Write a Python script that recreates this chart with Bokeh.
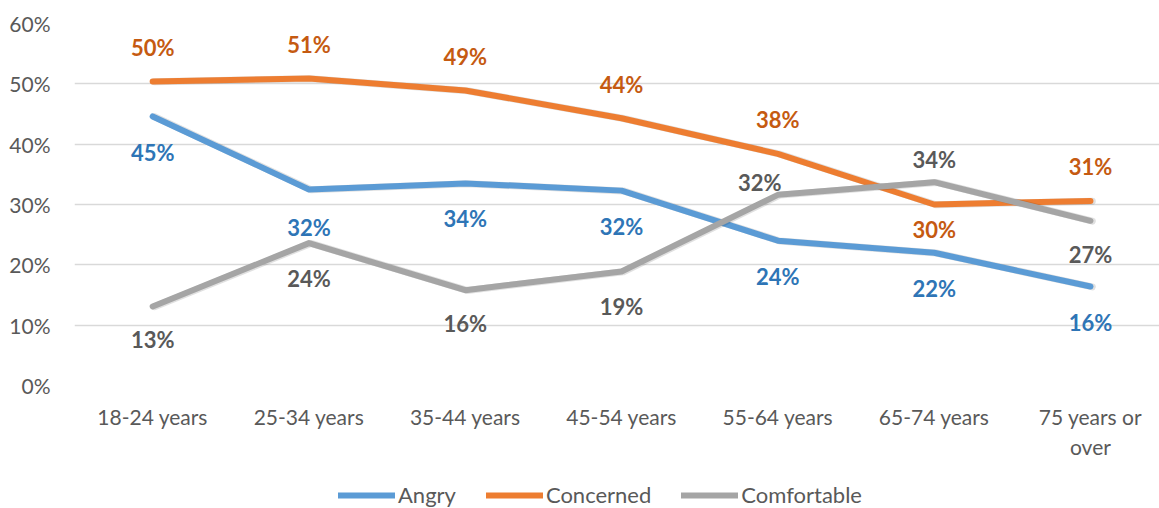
from bokeh.plotting import figure
from bokeh.layouts import column
from bokeh.models import Range1d, FixedTicker, Legend, LegendItem, ColumnDataSource
from bokeh.core.properties import value
from bokeh.embed import file_html
from bokeh.resources import INLINE

categories = ["18-24 years", "25-34 years", "35-44 years", "45-54 years",
              "55-64 years", "65-74 years", "75 years or\nover"]
angry = [44.6, 32.5, 33.5, 32.3, 24.0, 22.0, 16.4]
concerned = [50.4, 50.9, 48.9, 44.3, 38.4, 30.0, 30.6]
comfortable = [13.1, 23.6, 15.8, 18.9, 31.6, 33.7, 27.3]

series_names = ["Angry", "Concerned", "Comfortable"]
line_colors = ["#5B9BD5", "#ED7D31", "#A5A5A5"]
label_colors = ["#2E75B6", "#C55A11", "#595959"]

# label placement (screen px offsets) per point
place = {
    "Angry": ([0] * 7, [36, 38, 35, 36, 36, 36, 36]),
    "Concerned": ([0] * 7, [-34, -34, -34, -34, -34, 25, -34]),
    "Comfortable": ([0, 0, 0, 0, -18, 0, 0], [33, 35, 33, 35, -12, -23, 34]),
}

FONT = "Lato"
x = list(range(len(categories)))

p = figure(width=1159, height=470, output_backend="svg", toolbar_location=None,
           x_range=Range1d(-0.5, -0.5 + 1085 / 156.3), y_range=Range1d(0, 60),
           min_border_left=74, min_border_right=0, min_border_top=23, min_border_bottom=85)
p.outline_line_color = None
p.background_fill_color = "white"
p.border_fill_color = "white"

p.yaxis.ticker = FixedTicker(ticks=[0, 10, 20, 30, 40, 50, 60])
p.yaxis.major_label_overrides = {v: f"{v}%" for v in [0, 10, 20, 30, 40, 50, 60]}
p.xaxis.ticker = FixedTicker(ticks=x)
p.xaxis.major_label_overrides = {i: c for i, c in enumerate(categories)}
for ax in (p.xaxis, p.yaxis):
    ax.axis_line_color = None
    ax.major_tick_line_color = None
    ax.minor_tick_line_color = None
    ax.major_label_text_font = FONT
    ax.major_label_text_font_size = "21px"
    ax.major_label_text_color = "#595959"
p.yaxis.major_label_standoff = 18
p.xaxis.major_label_standoff = 12
p.xgrid.grid_line_color = None
p.ygrid.ticker = FixedTicker(ticks=[0, 10, 20, 30, 40, 50, 60])
p.ygrid.grid_line_color = "#D9D9D9"
p.ygrid.grid_line_width = 1.5

for name, vals, lc in zip(series_names, [angry, concerned, comfortable], line_colors):
    # soft shadow
    p.line([xi + 0.012 for xi in x], [v - 0.045 for v in vals], line_color="black", line_alpha=0.12,
           line_width=7, line_join="round", line_cap="round")
    p.line(x, vals, line_color=lc, line_width=6, line_join="round", line_cap="round")

for name, vals, tc in zip(series_names, [angry, concerned, comfortable], label_colors):
    xo, yo = place[name]
    src = ColumnDataSource(dict(x=x, y=vals, t=[f"{round(v):.0f}%" for v in vals], xo=xo, yo=yo))
    p.text(x="x", y="y", text="t", x_offset="xo", y_offset="yo", source=src,
           text_font=value(FONT), text_font_size="22px", text_font_style="bold",
           text_color=tc, text_align="center", text_baseline="middle")

# legend strip below the chart (its frame is aligned with the chart's frame)
lf = figure(width=1159, height=38, output_backend="svg", toolbar_location=None,
            x_axis_type=None, y_axis_type=None, x_range=Range1d(0, 1), y_range=Range1d(0, 1),
            min_border=0, min_border_left=0, min_border_right=0, min_border_top=0, min_border_bottom=0)
lf.outline_line_color = None
lf.xgrid.visible = False
lf.ygrid.visible = False
items = []
for name, lc in zip(series_names, line_colors):
    # off-range placeholder renderer that only provides the legend swatch style
    r = lf.line([2, 3], [2, 2], line_color=lc, line_width=6, line_cap="round")
    items.append(LegendItem(label=name, renderers=[r]))
legend = Legend(items=items, orientation="horizontal", location=(264, 0),
                glyph_width=57, glyph_height=20, label_standoff=3, spacing=30,
                padding=0, margin=0, border_line_color=None, background_fill_alpha=0,
                label_text_font=FONT, label_text_font_size="22px", label_text_color="#595959")
lf.add_layout(legend, "center")

layout = column(p, lf, spacing=0)
open("out.html", "w").write(file_html(layout, INLINE))
